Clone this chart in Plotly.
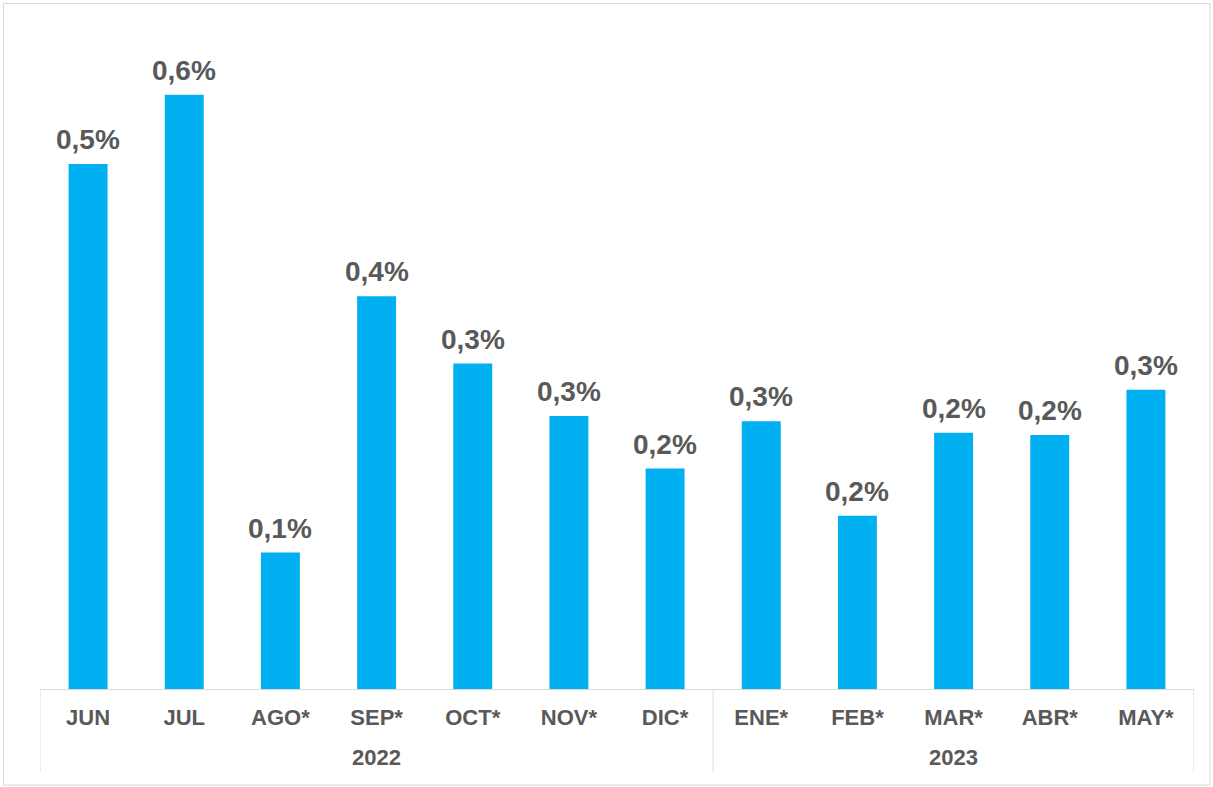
import plotly.graph_objects as go

years = ["2022"] * 7 + ["2023"] * 5
months = ["JUN", "JUL", "AGO*", "SEP*", "OCT*", "NOV*", "DIC*",
          "ENE*", "FEB*", "MAR*", "ABR*", "MAY*"]
values = [0.50, 0.566, 0.13, 0.374, 0.31, 0.26, 0.21, 0.255, 0.165, 0.244, 0.242, 0.285]

W, H = 1213, 787
ml, mr, mt, mb = 40, 19, 20, 98
pw, ph = W - ml - mr, H - mt - mb
FONT = "Liberation Sans, Arial, sans-serif"
TXT = "#595959"
LINE = "#D9D9D9"

fig = go.Figure(go.Bar(
    x=months, y=values,
    marker=dict(color="#00B0F0", line=dict(width=0)),
    hoverinfo="x+y",
))

annotations = []
for m, v in zip(months, values):
    annotations.append(dict(
        x=m, y=v, xref="x", yref="y", yanchor="bottom", yshift=7,
        text=f"{v:.1f}%".replace(".", ","), showarrow=False,
        font=dict(family=FONT, size=28, color=TXT, weight="bold"),
    ))

# group boundaries from the years list
groups = []
start = 0
for i in range(1, len(years) + 1):
    if i == len(years) or years[i] != years[start]:
        groups.append((years[start], start, i - 1))
        start = i

shapes = []
bounds = sorted({g[1] - 0.5 for g in groups} | {g[2] + 0.5 for g in groups})
for b in bounds:
    shapes.append(dict(type="line", xref="x", yref="paper",
                       x0=b, x1=b, y0=0, y1=-(772 - (H - mb)) / ph,
                       line=dict(color=LINE, width=1)))
for name, s, e in groups:
    annotations.append(dict(
        x=(s + e) / 2, y=-(757 - (H - mb)) / ph, xref="x", yref="paper",
        yanchor="middle", text=name, showarrow=False,
        font=dict(family=FONT, size=22, color=TXT, weight="bold"),
    ))

shapes.append(dict(
    type="rect", xref="paper", yref="paper",
    x0=(3.5 - ml) / pw, x1=(1210 - ml) / pw,
    y0=-(785 - (H - mb)) / ph, y1=((H - mb) - 3.5) / ph,
    line=dict(color=LINE, width=1), fillcolor="rgba(0,0,0,0)", layer="below",
))

fig.update_layout(
    width=W, height=H,
    margin=dict(l=ml, r=mr, t=mt, b=mb),
    paper_bgcolor="white", plot_bgcolor="white",
    bargap=0.595,
    showlegend=False,
    xaxis=dict(
        type="category", range=[-0.5, len(months) - 0.5],
        showline=True, linecolor=LINE, linewidth=1,
        ticks="", showgrid=False, ticklabelstandoff=9,
        tickfont=dict(family=FONT, size=22, color=TXT, weight="bold"),
    ),
    yaxis=dict(range=[0, ph / 1050], visible=False, showgrid=False, zeroline=False),
    shapes=shapes,
    annotations=annotations,
)

fig.write_html("out.html", config={"displayModeBar": False},
               post_script="document.body.style.margin='0';")
